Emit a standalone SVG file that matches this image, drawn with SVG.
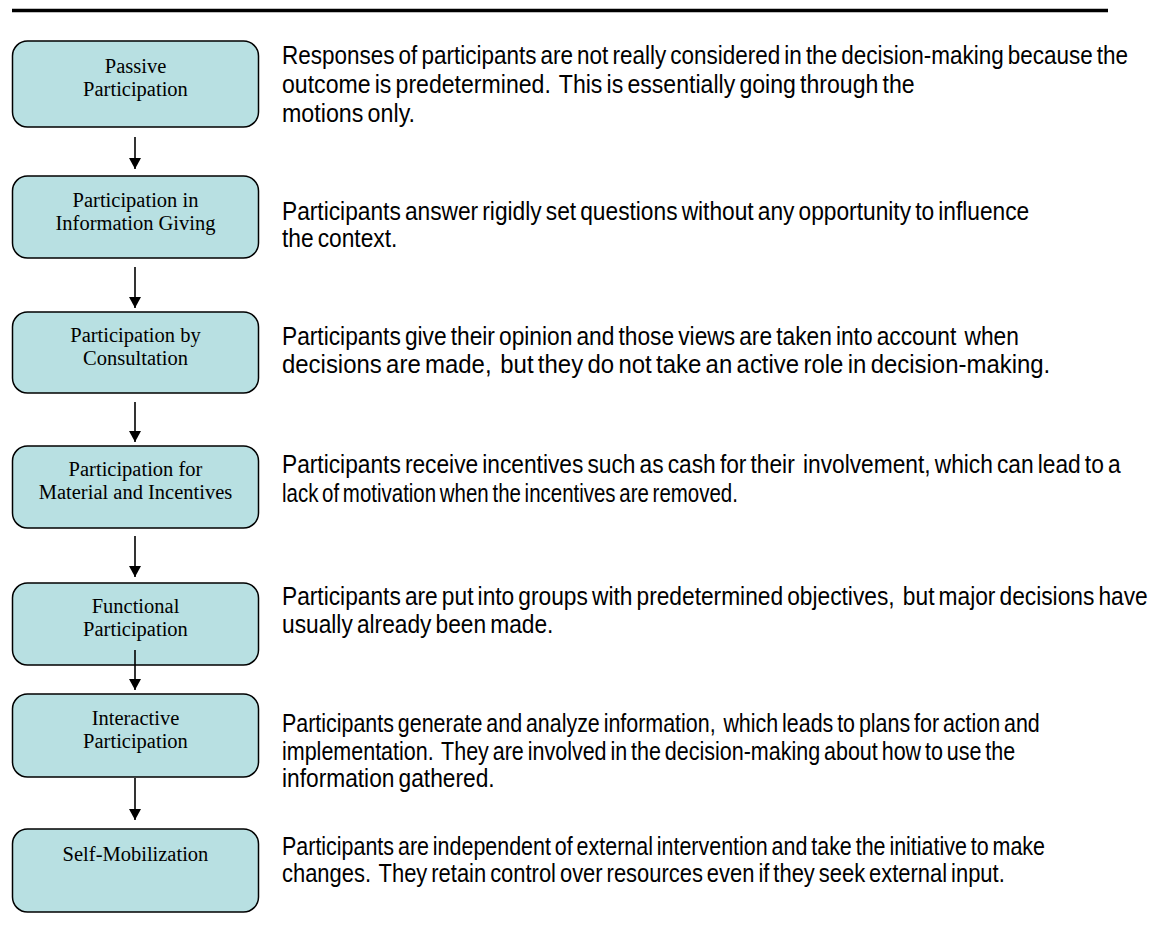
<svg xmlns="http://www.w3.org/2000/svg" width="1165" height="930" viewBox="0 0 1165 930">
<defs>
<style>
.box{fill:#b8e0e2;stroke:#000;stroke-width:1.5}
.lbl{font-family:"Liberation Serif","Times New Roman",serif;font-size:20.5px;fill:#000;text-anchor:middle}
.desc{font-family:"Liberation Sans",Arial,sans-serif;font-size:26px;fill:#000;word-spacing:-2.5px;white-space:pre}
.conn{stroke:#000;stroke-width:1.6;fill:none}
</style>
<marker id="ah" markerWidth="13" markerHeight="12" refX="12" refY="6.5" orient="auto" markerUnits="userSpaceOnUse" viewBox="0 0 12 13">
<path d="M0,0 L12,6.5 L0,13 Z" fill="#000"/>
</marker>
</defs>
<rect width="1165" height="930" fill="#fff"/>
<line x1="12" y1="10.5" x2="1108" y2="10.5" stroke="#000" stroke-width="3.5"/>

<g id="n1">
<rect class="box" x="12.5" y="41" width="246" height="86" rx="15"/>
<text class="lbl" x="135.5" y="73">Passive</text>
<text class="lbl" x="135.5" y="96">Participation</text>
<g transform="translate(282,0) scale(0.875,1)">
<text class="desc" x="0" y="64" textLength="967" lengthAdjust="spacingAndGlyphs">Responses of participants are not really considered in the decision-making because the</text>
<text class="desc" x="0" y="93" textLength="723" lengthAdjust="spacingAndGlyphs">outcome is predetermined.  This is essentially going through the</text>
<text class="desc" x="0" y="122" textLength="152" lengthAdjust="spacingAndGlyphs">motions only.</text>
</g>
</g>

<g id="n2">
<rect class="box" x="12.5" y="176" width="246" height="82" rx="15"/>
<text class="lbl" x="135.5" y="207">Participation in</text>
<text class="lbl" x="135.5" y="230">Information Giving</text>
<g transform="translate(282,0) scale(0.875,1)">
<text class="desc" x="0" y="220">Participants answer rigidly set questions without any opportunity to influence</text>
<text class="desc" x="0" y="247">the context.</text>
</g>
</g>

<g id="n3">
<rect class="box" x="12.5" y="312" width="246" height="81" rx="15"/>
<text class="lbl" x="135.5" y="342">Participation by</text>
<text class="lbl" x="135.5" y="365">Consultation</text>
<g transform="translate(282,0) scale(0.875,1)">
<text class="desc" x="0" y="345">Participants give their opinion and those views are taken into account  when</text>
<text class="desc" x="0" y="373" textLength="878" lengthAdjust="spacingAndGlyphs">decisions are made,  but they do not take an active role in decision-making.</text>
</g>
</g>

<g id="n4">
<rect class="box" x="12.5" y="446" width="246" height="82" rx="15"/>
<text class="lbl" x="135.5" y="476">Participation for</text>
<text class="lbl" x="135.5" y="499">Material and Incentives</text>
<g transform="translate(282,0) scale(0.875,1)">
<text class="desc" x="0" y="473">Participants receive incentives such as cash for their  involvement, which can lead to a</text>
<text class="desc" x="0" y="502" textLength="521" lengthAdjust="spacingAndGlyphs">lack of motivation when the incentives are removed.</text>
</g>
</g>

<g id="n5">
<rect class="box" x="12.5" y="583" width="246" height="82" rx="15"/>
<text class="lbl" x="135.5" y="613">Functional</text>
<text class="lbl" x="135.5" y="636">Participation</text>
<g transform="translate(282,0) scale(0.875,1)">
<text class="desc" x="0" y="605">Participants are put into groups with predetermined objectives,  but major decisions have</text>
<text class="desc" x="0" y="633">usually already been made.</text>
</g>
</g>

<g id="n6">
<rect class="box" x="12.5" y="694" width="246" height="83" rx="15"/>
<text class="lbl" x="135.5" y="725">Interactive</text>
<text class="lbl" x="135.5" y="748">Participation</text>
<g transform="translate(282,0) scale(0.875,1)">
<text class="desc" x="0" y="732" textLength="866" lengthAdjust="spacingAndGlyphs">Participants generate and analyze information,  which leads to plans for action and</text>
<text class="desc" x="0" y="760" textLength="838" lengthAdjust="spacingAndGlyphs">implementation.  They are involved in the decision-making about how to use the</text>
<text class="desc" x="0" y="787">information gathered.</text>
</g>
</g>

<g id="n7">
<rect class="box" x="12.5" y="829" width="246" height="83" rx="15"/>
<text class="lbl" x="135.5" y="861">Self-Mobilization</text>
<g transform="translate(282,0) scale(0.875,1)">
<text class="desc" x="0" y="855" textLength="872" lengthAdjust="spacingAndGlyphs">Participants are independent of external intervention and take the initiative to make</text>
<text class="desc" x="0" y="882" textLength="826" lengthAdjust="spacingAndGlyphs">changes.  They retain control over resources even if they seek external input.</text>
</g>
</g>

<g id="connectors">
<line class="conn" x1="135" y1="137" x2="135" y2="169" marker-end="url(#ah)"/>
<line class="conn" x1="135" y1="267" x2="135" y2="308" marker-end="url(#ah)"/>
<line class="conn" x1="135" y1="402" x2="135" y2="442" marker-end="url(#ah)"/>
<line class="conn" x1="135" y1="536" x2="135" y2="577" marker-end="url(#ah)"/>
<line class="conn" x1="135" y1="650" x2="135" y2="690" marker-end="url(#ah)"/>
<line class="conn" x1="135" y1="778" x2="135" y2="820" marker-end="url(#ah)"/>
</g>
</svg>
